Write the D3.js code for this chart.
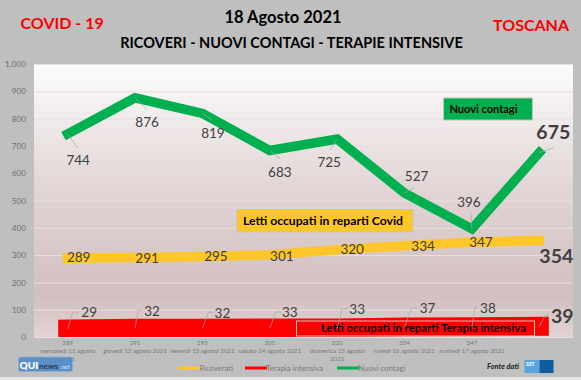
<!DOCTYPE html>
<html>
<head>
<meta charset="utf-8">
<script src="https://cdn.jsdelivr.net/npm/d3@7"></script>
<style>
  html, body { margin: 0; padding: 0; background: #bfbfbf; }
  svg { display: block; }
  text { font-family: Lato, "Open Sans", sans-serif; }
</style>
</head>
<body>
<div id="chart"></div>
<script>
const days = ["mercoledì 11 agosto 2021", "giovedì 12 agosto 2021", "venerdì 13 agosto 2021", "sabato 14 agosto 2021",
  "domenica 15 agosto 2021", "lunedì 16 agosto 2021", "martedì 17 agosto 2021", "mercoledì 18 agosto 2021"];
const ricoverati = [289, 291, 295, 301, 320, 334, 347, 354];
const terapia = [29, 32, 32, 33, 33, 37, 38, 39];
const contagi = [744, 876, 819, 683, 725, 527, 396, 675];
const yTicks = [0, 100, 200, 300, 400, 500, 600, 700, 800, 900, 1000];

const margin = { top: 64, right: 8, bottom: 43, left: 34 };
const width = 581 - margin.left - margin.right;
const height = 380 - margin.top - margin.bottom;

const svg = d3.select("#chart").append("svg")
  .attr("width", 581)
  .attr("height", 380);

const defs = svg.append("defs");
const grad = defs.append("linearGradient").attr("id", "plotbg")
  .attr("x1", 0).attr("y1", 0).attr("x2", 0).attr("y2", 1);
grad.append("stop").attr("offset", "0%").attr("stop-color", "#fdfcfc");
grad.append("stop").attr("offset", "45%").attr("stop-color", "#e2d5d5");
grad.append("stop").attr("offset", "85%").attr("stop-color", "#d2bfbf");
grad.append("stop").attr("offset", "100%").attr("stop-color", "#e3d4d4");
defs.append("clipPath").attr("id", "plotclip").append("rect")
  .attr("width", width).attr("height", height);

svg.append("rect").attr("width", 581).attr("height", 380).attr("fill", "#bfbfbf");
svg.append("rect").attr("x", 0).attr("y", 377).attr("width", 581).attr("height", 3).attr("fill", "#e6e6e6");

const g = svg.append("g").attr("transform", `translate(${margin.left},${margin.top})`);

g.append("rect").attr("width", width).attr("height", height).attr("fill", "url(#plotbg)");

const x = d3.scaleBand().domain(days).range([0, width]);
const y = d3.scaleLinear().domain([0, 1000]).range([height, 0]);
const cx = i => x(days[i]) + x.bandwidth() / 2;

// griglia
const yAxis = d3.axisLeft(y).tickValues(yTicks)
  .tickSizeInner(-width).tickSizeOuter(0).tickPadding(8)
  .tickFormat(d => d3.format(",")(d).replace(",", "."));
const yg = g.append("g").call(yAxis);
yg.select(".domain").remove();
yg.selectAll("line").attr("stroke", "#e8e0e0").attr("stroke-width", 1);
yg.selectAll("text").attr("fill", "#6f6f6f").attr("font-size", 8.2);

const line = d3.line().x((d, i) => cx(i)).y(d => y(d));

const series = [
  { values: ricoverati, color: "#ffc627", w: 9.5 },
  { values: terapia, color: "#ff0000", w: 19 },
  { values: contagi, color: "#00b050", w: 9.5 }
];
const marks = g.append("g").attr("clip-path", "url(#plotclip)");
marks.selectAll("path").data(series).enter().append("path")
  .attr("d", d => line(d.values))
  .attr("fill", "none")
  .attr("stroke", d => d.color)
  .attr("stroke-width", d => d.w)
  .attr("stroke-linecap", "square")
  .attr("stroke-linejoin", "miter");

// riquadri
function callout(x0, y0, w, h, fill, txt, tx, size) {
  svg.append("rect").attr("x", x0).attr("y", y0).attr("width", w).attr("height", h)
    .attr("fill", fill).attr("stroke", "#c9c4b8").attr("stroke-width", 1);
  svg.append("text").attr("x", tx).attr("y", y0 + h / 2 + size * 0.35)
    .attr("font-size", size).attr("font-weight", 700).attr("fill", "#000").text(txt);
}
callout(443.5, 98, 89, 22, "#00b050", "Nuovi contagi", 449.5, 11);
callout(237, 209.5, 176, 22.5, "#ffc627", "Letti occupati in reparti Covid", 243, 12.2);
callout(296.5, 321, 238, 15, "none", "Letti occupati in reparti Terapia intensiva", 321, 11.4);

// etichette: scostamento dal punto (dx, dy) e punto di arrivo della linea guida
function labels(values, offs, leaderColor) {
  values.forEach((v, i) => {
    const px = margin.left + cx(i), py = margin.top + y(v);
    const o = offs[i];
    if (o.leader) {
      const pts = o.leader.map(p => [px + p[0], py + p[1]]);
      svg.append("path").attr("d", d3.line()(pts)).attr("fill", "none")
        .attr("stroke", leaderColor).attr("stroke-width", 0.7);
    }
    const big = i === values.length - 1;
    svg.append("text").attr("x", px + o.dx).attr("y", py + o.dy)
      .attr("text-anchor", "middle").attr("dominant-baseline", "central")
      .attr("font-size", big ? 19.5 : 13.5)
      .attr("font-weight", big ? 700 : 400)
      .attr("fill", "#404040").text(v);
  });
}

labels(contagi, [
  { dx: 10.5, dy: 26, leader: [[0, 0], [10, 14]] },
  { dx: 12, dy: 24, leader: [[0, 0], [12, 12]] },
  { dx: 10.5, dy: 20, leader: [[0, 0], [10, 7]] },
  { dx: 10, dy: 21, leader: [[0, 0], [10, 8]] },
  { dx: -8, dy: 23, leader: [[0, 0], [-7, 11]] },
  { dx: 12, dy: -17, leader: [[0, 0], [9, -5]] },
  { dx: -3, dy: -27, leader: [[0, 0], [-1, -16]] },
  { dx: 14, dy: -21, leader: [[0, 0], [14, -5]] }
], "#a6a6a6");

labels(ricoverati, [
  { dx: 11, dy: -1 }, { dx: 12, dy: 0 }, { dx: 13.5, dy: 0 }, { dx: 12, dy: 1 },
  { dx: 15, dy: -1 }, { dx: 18.5, dy: 0 }, { dx: 9, dy: 0 }, { dx: 17, dy: 15 }
]);

labels(terapia, [
  { dx: 21.5, dy: -17, leader: [[0, 0], [5, -17], [11, -17]] },
  { dx: 17, dy: -17.5, leader: [[0, 0], [3, -18], [7, -18]] },
  { dx: 20, dy: -15, leader: [[0, 0], [6, -16], [11, -16]] },
  { dx: 20, dy: -16, leader: [[0, 0], [6, -16], [11, -16]] },
  { dx: 20, dy: -19, leader: [[0, 0], [5, -19], [11, -19]] },
  { dx: 23, dy: -19, leader: [[0, 0], [7, -19], [13, -19]] },
  { dx: 16, dy: -19, leader: [[0, 0], [3, -20], [5, -20]] },
  { dx: 23, dy: -11, leader: [[0, 0], [6, -11], [10, -11]] }
], "#a6a6a6");

// etichette asse x: valore dei ricoverati + data
const xg = svg.append("g").attr("fill", "#7a7a7a").attr("font-size", 6.2).attr("text-anchor", "middle");
days.slice(0, 7).forEach((d, i) => {
  const px = margin.left + cx(i);
  xg.append("text").attr("x", px).attr("y", 344.5).text(ricoverati[i]);
  let rows = [d];
  if (i === 0 || i === 4) rows = [d.replace(" 2021", ""), "2021"];
  rows.forEach((r, k) => xg.append("text").attr("x", px).attr("y", 352.5 + k * 8.5).text(r));
});

// legenda
const legendItems = [
  { name: "Ricoverati", color: "#ffc627", x0: 178 },
  { name: "Terapia intensiva", color: "#ff0000", x0: 245 },
  { name: "Nuovi contagi", color: "#00b050", x0: 337 }
];
legendItems.forEach(d => {
  svg.append("text").attr("x", d.x0 + 21).attr("y", 370.5).attr("font-size", 7.8).attr("fill", "#7a7a7a").text(d.name);
  svg.append("line").attr("x1", d.x0).attr("x2", d.x0 + 22).attr("y1", 368).attr("y2", 368)
    .attr("stroke", d.color).attr("stroke-width", 3);
});

// titoli
function title(txt, tx, ty, size, fill, anchor) {
  svg.append("text").attr("x", tx).attr("y", ty).attr("font-size", size).attr("font-weight", 700)
    .attr("fill", fill).attr("text-anchor", anchor || "start").text(txt);
}
title("18 Agosto 2021", 283, 23, 16.5, "#000", "middle");
title("RICOVERI - NUOVI CONTAGI - TERAPIE INTENSIVE", 291.5, 48, 14.5, "#000", "middle");
title("COVID - 19", 20.5, 29, 16, "#ff0000");
title("TOSCANA", 493, 31, 16, "#ff0000");

// logo QUInews
svg.append("rect").attr("x", 18.5).attr("y", 357).attr("width", 54).attr("height", 14.5).attr("rx", 2)
  .attr("fill", "#5b8fc7").attr("stroke", "#8db0d8").attr("stroke-width", 0.7);
svg.append("text").attr("x", 19.5).attr("y", 369).attr("font-size", 10.2).attr("font-weight", 900).attr("fill", "#fff").text("QUI");
svg.append("text").attr("x", 39).attr("y", 369).attr("font-size", 8.2).attr("font-weight", 700).attr("fill", "#26384f").text("news");
svg.append("text").attr("x", 60).attr("y", 369).attr("font-size", 6).attr("font-style", "italic").attr("fill", "#dfe8f3").text(".net");

// fonte
svg.append("text").attr("x", 487).attr("y", 369).attr("font-size", 7.5).attr("font-weight", 700)
  .attr("font-style", "italic").attr("fill", "#222").text("Fonte dati");
svg.append("rect").attr("x", 524.5).attr("y", 360).attr("width", 15).attr("height", 13).attr("fill", "#5aa5dc");
svg.append("rect").attr("x", 539.5).attr("y", 360).attr("width", 14).attr("height", 13).attr("fill", "#0f5c9e");
svg.append("text").attr("x", 526).attr("y", 366).attr("font-size", 5).attr("font-weight", 900).attr("fill", "#fff").text("SST");
</script>
</body>
</html>
